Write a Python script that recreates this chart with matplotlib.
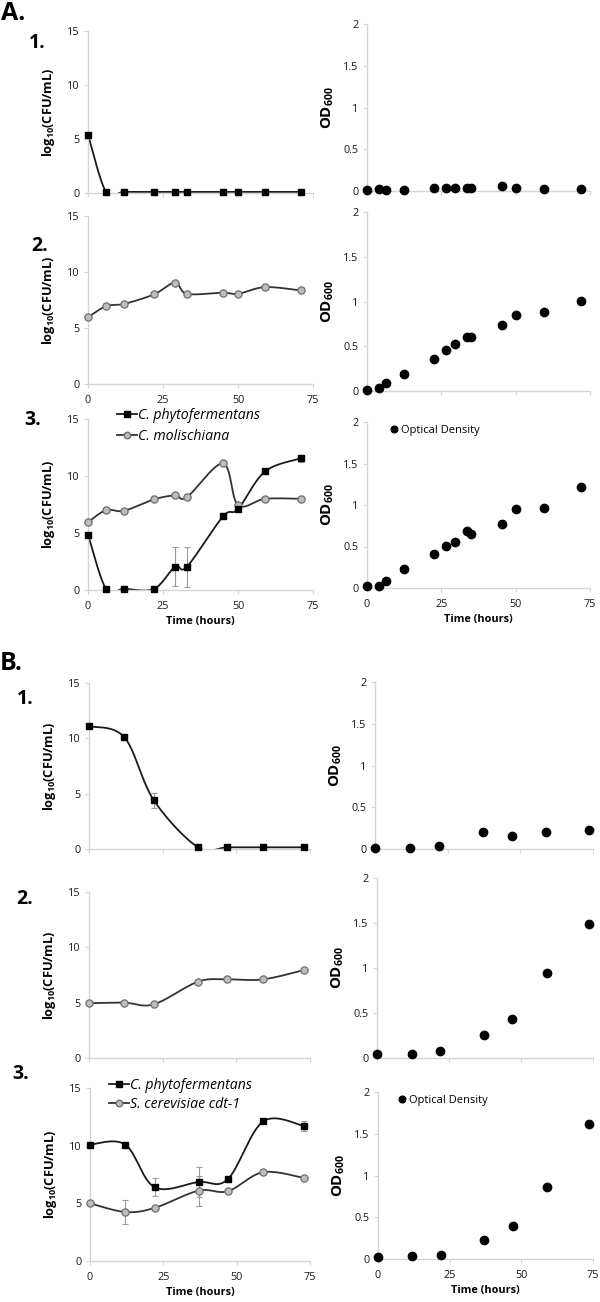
import numpy as np
import matplotlib
matplotlib.use("Agg")
import matplotlib.pyplot as plt
from matplotlib.lines import Line2D

plt.rcParams["font.family"] = ["Open Sans", "DejaVu Sans"]
plt.rcParams["mathtext.fontset"] = "custom"
plt.rcParams["mathtext.rm"] = "Open Sans"
plt.rcParams["mathtext.bf"] = "Open Sans:bold"

# ---- data ----
a_cfu_t = [0, 6, 12, 22, 29, 33, 45, 50, 59, 71]
a1_phyto = [5.4, 0.1, 0.1, 0.1, 0.1, 0.1, 0.1, 0.1, 0.1, 0.1]
a2_moli = [5.95, 6.95, 7.15, 8.0, 9.05, 8.05, 8.15, 8.05, 8.65, 8.35]
a3_phyto = [4.85, 0.1, 0.1, 0.1, 2.05, 2.05, 6.45, 7.1, 10.4, 11.55]
a3_phyto_err = [0, 0, 0, 0, 1.7, 1.75, 0, 0, 0, 0.3]
a3_moli = [5.95, 7.0, 6.95, 7.95, 8.3, 8.15, 11.1, 7.45, 8.0, 8.0]

a_od_t = [0, 4, 6.5, 12.5, 22.5, 26.5, 29.5, 33.5, 35, 45.5, 50, 59.5, 72]
a1_od = [0.015, 0.02, 0.01, 0.01, 0.03, 0.04, 0.03, 0.035, 0.035, 0.065, 0.03, 0.02, 0.02]
a2_od = [0.01, 0.03, 0.09, 0.19, 0.355, 0.46, 0.52, 0.60, 0.60, 0.74, 0.845, 0.88, 1.01]
a3_od = [0.028, 0.03, 0.08, 0.228, 0.41, 0.51, 0.55, 0.69, 0.65, 0.77, 0.956, 0.964, 1.22]

b_cfu_t = [0, 12, 22, 37, 47, 59, 73]
b1_phyto = [11.1, 10.1, 4.4, 0.15, 0.15, 0.15, 0.15]
b1_phyto_err = [0, 0, 0.7, 0, 0, 0, 0]
b2_sc = [4.95, 5.0, 4.85, 6.9, 7.1, 7.1, 7.95]
b3_phyto = [10.1, 10.1, 6.4, 6.85, 7.1, 12.1, 11.7]
b3_phyto_err = [0, 0, 0.8, 1.3, 0, 0, 0.4]
b3_sc = [5.0, 4.25, 4.6, 6.1, 6.05, 7.7, 7.2]
b3_sc_err = [0, 1.05, 0, 1.3, 0, 0, 0]

b_od_t = [0, 12, 22, 37, 47, 59, 73.5]
b1_od = [0.016, 0.016, 0.036, 0.2, 0.15, 0.2, 0.23]
b2_od = [0.04, 0.05, 0.08, 0.255, 0.435, 0.945, 1.49]
b3_od = [0.02, 0.03, 0.05, 0.23, 0.40, 0.863, 1.62]

PHYTO = "C. phytofermentans"
MOLI = "C. molischiana"
SCER = "S. cerevisiae cdt-1"

W, H = 600, 1302
AX_GRAY = "#d4d4d4"
SQ = dict(marker="s", ms=4.5, mfc="black", mec="black", color="#1a1a1a", lw=1.3)
CI = dict(marker="o", ms=5.2, mfc="#bdbdbd", mec="#6e6e6e", mew=0.9, color="#333333", lw=1.3)

fig = plt.figure(figsize=(W / 100, H / 100), dpi=100)


def px_axes(x0, x1, top, bot):
    return fig.add_axes([x0 / W, 1 - bot / H, (x1 - x0) / W, (bot - top) / H])


def smooth(x, y, n=30):
    # excel-style smoothed line (cubic bezier through the points)
    px = np.r_[x[0], x, x[-1]].astype(float)
    py = np.r_[y[0], y, y[-1]].astype(float)
    t = np.linspace(0, 1, n)[:, None]
    out = []
    for i in range(1, len(px) - 2):
        p0 = np.array([px[i], py[i]])
        p3 = np.array([px[i + 1], py[i + 1]])
        c1 = p0 + np.array([px[i + 1] - px[i - 1], py[i + 1] - py[i - 1]]) / 6
        c2 = p3 - np.array([px[i + 2] - px[i], py[i + 2] - py[i]]) / 6
        seg = (1 - t) ** 3 * p0 + 3 * (1 - t) ** 2 * t * c1 + 3 * (1 - t) * t ** 2 * c2 + t ** 3 * p3
        out.append(seg)
    pts = np.vstack(out)
    return pts[:, 0], pts[:, 1]


def style(ax, ymax, yticks, ylabels, xlabels):
    ax.set_xlim(0, 75)
    ax.set_ylim(0, ymax)
    for s in ("top", "right"):
        ax.spines[s].set_visible(False)
    for s in ("left", "bottom"):
        ax.spines[s].set_color(AX_GRAY)
        ax.spines[s].set_linewidth(1.0)
    ax.set_xticks([0, 25, 50, 75])
    ax.set_yticks(yticks)
    ax.set_yticklabels(ylabels)
    if not xlabels:
        ax.set_xticklabels([])
    ax.tick_params(axis="both", colors=AX_GRAY, labelcolor="#1a1a1a", labelsize=7.8,
                   length=3, width=0.8, pad=3)
    ax.tick_params(axis="x", pad=5)
    ax.set_facecolor("none")


def cfu_axes(x0, x1, top, bot, xlabels=False):
    ax = px_axes(x0, x1, top, bot)
    style(ax, 15, [0, 5, 10, 15], ["0", "5", "10", "15"], xlabels)
    ax.set_ylabel(r"log$_\mathbf{10}$(CFU/mL)", fontsize=9.2, fontweight="bold", labelpad=7)
    return ax


def od_axes(x0, x1, top, bot, xlabels=False):
    ax = px_axes(x0, x1, top, bot)
    style(ax, 2, [0, 0.5, 1, 1.5, 2], ["0", "0.5", "1", "1.5", "2"], xlabels)
    ax.set_ylabel(r"OD$_\mathbf{600}$", fontsize=10.8, fontweight="bold", labelpad=5)
    return ax


def series(ax, t, y, kw, err=None):
    sx, sy = smooth(t, y)
    ax.plot(sx, sy, color=kw["color"], lw=kw["lw"], solid_capstyle="butt", zorder=2)
    if err is not None:
        e = np.asarray(err, float)
        m = e > 0
        ax.errorbar(np.asarray(t)[m], np.asarray(y)[m], yerr=e[m], fmt="none",
                    ecolor="#9a9a9a", elinewidth=0.8, capsize=2, capthick=0.8, zorder=2)
    ax.plot(t, y, ls="none", marker=kw["marker"], ms=kw["ms"], mfc=kw["mfc"], mec=kw["mec"],
            mew=kw.get("mew", 1), clip_on=False, zorder=3)


def od(ax, t, y):
    ax.plot(t, y, ls="none", marker="o", ms=6, color="black", clip_on=False, zorder=3)


def od_legend(ax, x, y):
    h = [Line2D([], [], ls="none", marker="o", ms=4.8, color="black")]
    ax.legend(h, ["Optical Density"], loc="upper left", bbox_to_anchor=(x / W, 1 - y / H),
              bbox_transform=fig.transFigure, frameon=False, fontsize=8, handlelength=0.6,
              handletextpad=0.3, borderpad=0, borderaxespad=0)


def cfu_legend(ax, names, kws, x, y, spacing):
    h = [Line2D([], [], color=k["color"], lw=k["lw"], marker=k["marker"], ms=k["ms"] * 0.9,
                mfc=k["mfc"], mec=k["mec"]) for k in kws]
    ax.legend(h, names, loc="upper left", bbox_to_anchor=(x / W, 1 - y / H),
              bbox_transform=fig.transFigure, frameon=False, handlelength=1.4,
              handletextpad=0.1, labelspacing=spacing, borderpad=0, borderaxespad=0,
              prop={"style": "italic", "size": 10.2})


# ---- A ----
ax = cfu_axes(88, 313, 31, 193)
series(ax, a_cfu_t, a1_phyto, SQ)
ax = od_axes(367, 590, 24, 191)
od(ax, a_od_t, a1_od)

ax = cfu_axes(88, 313, 216, 384, xlabels=True)
series(ax, a_cfu_t, a2_moli, CI)
ax = od_axes(367, 590, 212, 391)
od(ax, a_od_t, a2_od)

ax = cfu_axes(88, 313, 419, 590, xlabels=True)
series(ax, a_cfu_t, a3_moli, CI)
series(ax, a_cfu_t, a3_phyto, SQ, a3_phyto_err)
cfu_legend(ax, [PHYTO, MOLI], [SQ, CI], 117, 408, 0.45)
ax.set_xlabel("Time (hours)", fontsize=7.8, fontweight="bold", labelpad=3)
ax = od_axes(367, 590, 422, 588, xlabels=True)
od(ax, a_od_t, a3_od)
od_legend(ax, 391, 425)
ax.set_xlabel("Time (hours)", fontsize=7.8, fontweight="bold", labelpad=3)

# ---- B ----
ax = cfu_axes(89, 310, 683, 849)
series(ax, b_cfu_t, b1_phyto, SQ, b1_phyto_err)
ax = od_axes(375, 593, 682, 849)
od(ax, b_od_t, b1_od)

ax = cfu_axes(89, 310, 892, 1058)
series(ax, b_cfu_t, b2_sc, CI)
ax = od_axes(377, 593, 878, 1058)
od(ax, b_od_t, b2_od)

ax = cfu_axes(90, 310, 1088, 1261, xlabels=True)
series(ax, b_cfu_t, b3_sc, CI, b3_sc_err)
series(ax, b_cfu_t, b3_phyto, SQ, b3_phyto_err)
cfu_legend(ax, [PHYTO, SCER], [SQ, CI], 109, 1078, 0.3)
ax.set_xlabel("Time (hours)", fontsize=7.8, fontweight="bold", labelpad=3)
ax = od_axes(378, 593, 1092, 1259, xlabels=True)
od(ax, b_od_t, b3_od)
od_legend(ax, 399, 1095)
ax.set_xlabel("Time (hours)", fontsize=7.8, fontweight="bold", labelpad=3)


# panel labels
def lab(x, y, s, size):
    fig.text(x / W, 1 - y / H, s, fontsize=size, fontweight="bold", ha="left", va="center")


lab(1, 14, "A.", 18)
lab(29, 43, "1.", 14)
lab(31, 246, "2.", 14)
lab(24, 420, "3.", 14)
lab(0, 663, "B.", 18)
lab(17, 699, "1.", 14)
lab(16, 899, "2.", 14)
lab(12, 1074, "3.", 14)

fig.savefig("out.png", dpi=100)
